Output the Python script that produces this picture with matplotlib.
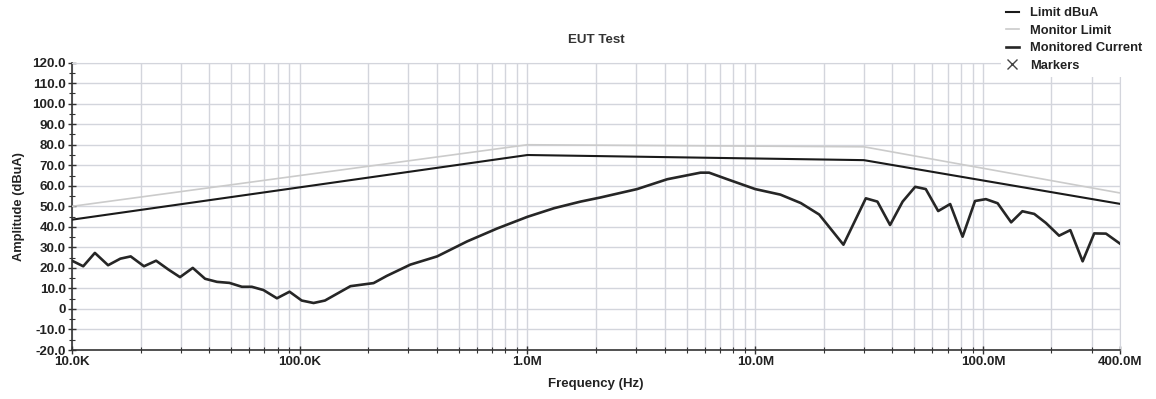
import numpy as np
import matplotlib.pyplot as plt
from matplotlib.ticker import FixedLocator, LogLocator, NullFormatter, MultipleLocator
from matplotlib.lines import Line2D

plt.rcParams['font.family'] = ['Liberation Sans', 'DejaVu Sans']

# limit lines (frequency in Hz, level in dBuA)
limit_freq = [1e4, 1e6, 3e7, 4e8]
limit_level = [43.5, 75.0, 72.5, 51.2]
monitor_freq = [1e4, 1e6, 3e7, 4e8]
monitor_level = [50.0, 80.0, 79.0, 56.5]

# monitored current sweep
current_freq = [10.0e3, 11.2e3, 12.6e3, 14.4e3, 16.3e3, 18.1e3, 20.7e3, 23.4e3, 26.5e3, 29.8e3,
                33.9e3, 38.4e3, 43.3e3, 49.1e3, 55.7e3, 61.6e3, 69.3e3, 79.4e3, 90.2e3, 102e3,
                115e3, 129e3, 167e3, 211e3, 241e3, 306e3, 401e3, 543e3, 736e3, 1.0e6,
                1.31e6, 1.71e6, 2.09e6, 3.03e6, 4.11e6, 5.75e6, 6.27e6, 7.54e6, 10.0e6, 12.9e6,
                15.85e6, 19.1e6, 24.4e6, 30.6e6, 34.4e6, 39.1e6, 44.4e6, 50.4e6, 56.1e6, 63.6e6,
                71.8e6, 81.4e6, 92.3e6, 103e6, 116e6, 133e6, 149e6, 168e6, 189e6, 216e6,
                242e6, 274e6, 308e6, 347e6, 400e6]
current_level = [23.5, 20.8, 27.3, 21.3, 24.5, 25.6, 20.8, 23.5, 19.2, 15.5,
                 20.0, 14.7, 13.2, 12.7, 10.8, 10.8, 9.2, 5.2, 8.4, 4.1,
                 2.9, 4.1, 11.1, 12.6, 16.1, 21.6, 25.6, 32.9, 39.2, 44.9,
                 49.1, 52.3, 54.3, 58.4, 63.2, 66.4, 66.4, 63.2, 58.4, 55.7,
                 51.6, 46.0, 31.3, 53.9, 52.3, 40.9, 52.3, 59.5, 58.4, 47.7,
                 51.1, 35.2, 52.6, 53.5, 51.5, 42.2, 47.6, 46.3, 41.9, 35.7,
                 38.4, 23.2, 36.8, 36.7, 31.8]

x_ticks = [1e4, 1e5, 1e6, 1e7, 1e8, 4e8]
x_labels = ['10.0K', '100.0K', '1.0M', '10.0M', '100.0M', '400.0M']
y_ticks = np.arange(-20, 121, 10)
y_labels = ['0' if v == 0 else f'{v:.1f}' for v in y_ticks]

text_color = '#222222'
grid_color = '#d3d5dc'

fig = plt.figure(figsize=(11.56, 3.99), dpi=100)
ax = fig.add_axes([0.0623, 0.1228, 0.9066, 0.7202])

ax.plot(monitor_freq, monitor_level, color='#cbcbcb', linewidth=1.2, zorder=3)
ax.plot(limit_freq, limit_level, color='#1a1a1a', linewidth=1.5, zorder=4)
ax.plot(current_freq, current_level, color='#262626', linewidth=1.9, zorder=5)

ax.set_xscale('log')
ax.set_xlim(1e4, 4e8)
ax.set_ylim(-20, 120)

ax.xaxis.set_major_locator(FixedLocator(x_ticks))
ax.set_xticklabels(x_labels)
ax.xaxis.set_minor_locator(LogLocator(base=10, subs=np.arange(2, 10)))
ax.xaxis.set_minor_formatter(NullFormatter())
ax.set_yticks(y_ticks)
ax.set_yticklabels(y_labels)
ax.yaxis.set_minor_locator(MultipleLocator(5))

ax.grid(True, which='major', color=grid_color, linewidth=1.0, zorder=0)
ax.grid(True, which='minor', axis='x', color=grid_color, linewidth=1.0, zorder=0)
ax.set_axisbelow(True)

for side in ['top', 'right']:
    ax.spines[side].set_color(grid_color)
for side in ['left', 'bottom']:
    ax.spines[side].set_color('#333333')
    ax.spines[side].set_linewidth(1.2)

ax.tick_params(axis='both', which='major', direction='inout', length=6, width=1,
               color='#333333', labelsize=9.6, labelcolor=text_color, pad=1.5)
ax.tick_params(axis='both', which='minor', direction='inout', length=4, width=0.8,
               color='#333333')
for lbl in ax.get_xticklabels() + ax.get_yticklabels():
    lbl.set_fontweight('bold')

ax.set_title('EUT Test', fontsize=9.6, fontweight='bold', color='#333333', pad=14)
ax.set_xlabel('Frequency (Hz)', fontsize=9.5, fontweight='bold', color=text_color, labelpad=7)
ax.set_ylabel('Amplitude (dBuA)', fontsize=9.3, fontweight='bold', color=text_color, labelpad=5)

# legend box on the top right, drawn over the grid
handles = [
    Line2D([], [], color='#1a1a1a', linewidth=1.5),
    Line2D([], [], color='#cbcbcb', linewidth=1.2),
    Line2D([], [], color='#262626', linewidth=1.9),
    Line2D([], [], color='#444444', linestyle='none', marker='x', markersize=7),
]
names = ['Limit dBuA', 'Monitor Limit', 'Monitored Current', 'Markers']
leg = fig.legend(handles, names, loc='upper left', bbox_to_anchor=(0.866, 0.995),
                 frameon=True, facecolor='white', edgecolor='none', framealpha=1.0,
                 fancybox=False, fontsize=9.3, handlelength=0.95, handletextpad=0.9,
                 labelspacing=0.42, borderpad=0.4, borderaxespad=0)
for t in leg.get_texts():
    t.set_fontweight('bold')
    t.set_color(text_color)

fig.savefig('out.png', dpi=100)
